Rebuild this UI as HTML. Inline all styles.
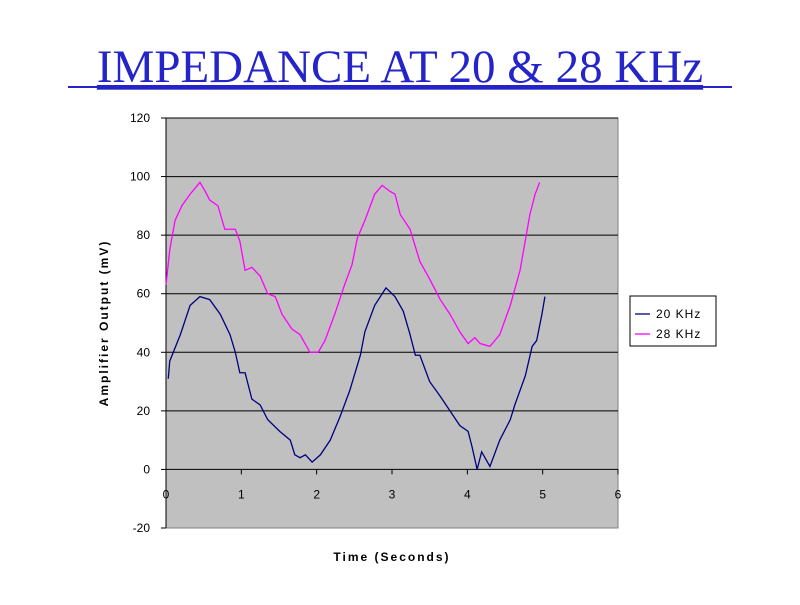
<!DOCTYPE html>
<html><head><meta charset="utf-8"><style>
body{margin:0;background:#fff;width:800px;height:600px;overflow:hidden}
svg text{font-family:"Liberation Sans",Arial,sans-serif}
</style></head><body>
<svg id="c" width="800" height="600" xmlns="http://www.w3.org/2000/svg">
<text x="400" y="82" text-anchor="middle" style="font-family:'Liberation Serif',serif;font-size:47px" fill="#2424c8" text-decoration="underline">IMPEDANCE  AT  20 &amp; 28 KHz</text>
<line x1="68" y1="87" x2="732" y2="87" stroke="#2424c8" stroke-width="2"/>
<g id="plot"></g>
</svg>
<script>
const xTicks=[0,1,2,3,4,5,6];
const yTicks=[-20,0,20,40,60,80,100,120];
const t20=[0.03,0.05,0.19,0.32,0.45,0.58,0.72,0.85,0.92,0.98,1.05,1.14,1.25,1.35,1.51,1.65,1.71,1.78,1.85,1.94,2.05,2.18,2.31,2.44,2.58,2.64,2.77,2.92,3.04,3.15,3.24,3.31,3.37,3.50,3.64,3.77,3.90,4.01,4.06,4.13,4.19,4.30,4.43,4.57,4.63,4.77,4.86,4.92,4.99,5.03];
const v20=[31,37,46,56,59,58,53,46,40,33,33,24,22,17,13,10,5,4,5,2.5,5,10,18,27,39,47,56,62,59,54,46,39,39,30,25,20,15,13,8,0,6,1,10,17,22,32,42,44,53,59];
const t28=[0,0.05,0.12,0.21,0.32,0.45,0.52,0.58,0.69,0.78,0.92,0.98,1.05,1.14,1.25,1.35,1.45,1.54,1.67,1.78,1.91,2.02,2.11,2.24,2.37,2.47,2.54,2.64,2.77,2.87,2.97,3.04,3.11,3.24,3.37,3.50,3.64,3.77,3.90,4.01,4.10,4.17,4.30,4.43,4.57,4.70,4.83,4.90,4.96];
const v28=[63,75,85,90,94,98,95,92,90,82,82,78,68,69,66,60,59,53,48,46,40,40,44,53,63,70,79,85,94,97,95,94,87,82,71,65,58,53,47,43,45,43,42,46,56,68,87,94,98];
const X0=166,X1=618,Y0=118,Y1=528;
const xs=v=>X0+(v-0)/(6-0)*(X1-X0);
const ys=v=>Y1-(v+20)/140*(Y1-Y0);
const NS="http://www.w3.org/2000/svg";
const g=document.getElementById('plot');
function mk(tag,attrs,name,parent){const e=document.createElementNS(NS,tag);for(const k in attrs)e.setAttribute(k,attrs[k]);


(parent||g).appendChild(e);return e;}
mk('rect',{x:X0,y:Y0,width:X1-X0,height:Y1-Y0,fill:'#c0c0c0',stroke:'#808080'},'plot-area');
yTicks.forEach(v=>{
 if(v!==-20&&v!==0) mk('line',{x1:X0,x2:X1,y1:ys(v),y2:ys(v),stroke:'#000'},'gridline');
 mk('line',{x1:X0-5,x2:X0,y1:ys(v),y2:ys(v),stroke:'#000'},'y-tick');
 const t=mk('text',{x:150,y:ys(v)+4,'text-anchor':'end','font-size':12},'y-tick-label');t.textContent=v;
});
mk('line',{x1:X0,x2:X0,y1:Y0,y2:Y1,stroke:'#000'},'y-axis');
mk('line',{x1:X0,x2:X1,y1:ys(0),y2:ys(0),stroke:'#000'},'x-axis');
xTicks.forEach(v=>{
 mk('line',{x1:xs(v),x2:xs(v),y1:ys(0),y2:ys(0)+5,stroke:'#000'},'x-tick');
 const t=mk('text',{x:xs(v),y:ys(0)+29,'text-anchor':'middle','font-size':12},'x-tick-label');t.textContent=v;
});
function line(ts,vs,c,n){mk('polyline',{points:ts.map((t,i)=>xs(t)+','+ys(vs[i])).join(' '),fill:'none',stroke:c,'stroke-width':1.3},n);}
line(t20,v20,'#000080','series-20khz');
line(t28,v28,'#ff00ff','series-28khz');
const xt=mk('text',{x:392,y:561,'text-anchor':'middle','font-size':12,'font-weight':'bold','letter-spacing':'2'},'x-axis-title');xt.textContent='Time (Seconds)';
const yt=mk('text',{x:0,y:0,'text-anchor':'middle','font-size':12,'font-weight':'bold','letter-spacing':'2',transform:'translate(108,323) rotate(-90)'},'y-axis-title');yt.textContent='Amplifier Output (mV)';
const lg=mk('g',{},'legend');
mk('rect',{x:630,y:296,width:86,height:50,fill:'#fff',stroke:'#000'},'legend-box',lg);
[['20 KHz','#000080',314],['28 KHz','#ff00ff',334]].forEach(([l,c,y])=>{
 const e=mk('g',{},'legend-entry',lg);
 mk('line',{x1:635,x2:650,y1:y,y2:y,stroke:c,'stroke-width':1.3},'legend-swatch',e);
 const t=mk('text',{x:656,y:y+4,'font-size':12,'letter-spacing':'1'},'legend-label',e);t.textContent=l;
});
</script>
</body></html>
